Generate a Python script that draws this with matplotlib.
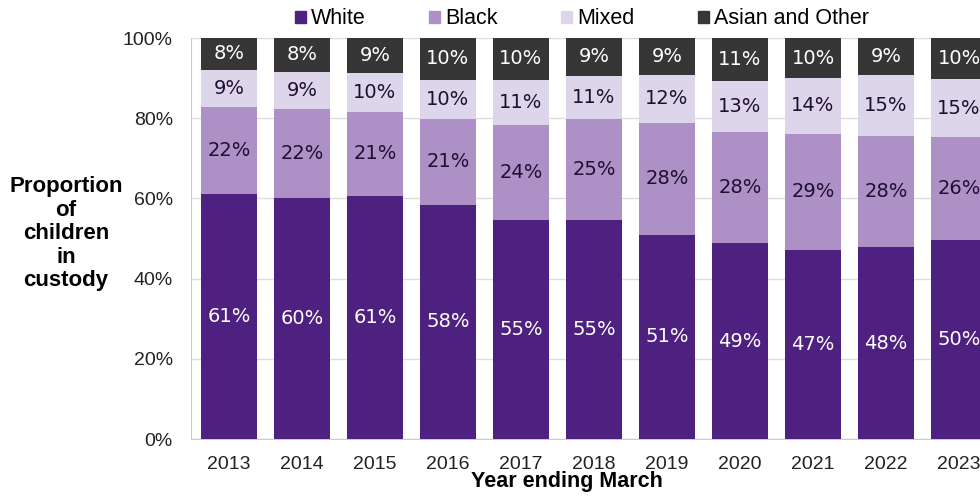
import matplotlib.pyplot as plt
from matplotlib.patches import Patch
import numpy as np

years = ['2013', '2014', '2015', '2016', '2017', '2018', '2019', '2020', '2021', '2022', '2023']
white = [61.0, 60.0, 60.6, 58.4, 54.7, 54.6, 51.0, 48.8, 47.2, 47.8, 49.6]
black = [21.8, 22.2, 21.0, 21.4, 23.7, 25.1, 27.9, 27.8, 28.9, 27.8, 25.6]
mixed = [9.3, 9.4, 9.6, 9.8, 11.2, 10.9, 12.0, 12.8, 13.9, 15.2, 14.6]
asian = [7.9, 8.4, 8.8, 10.4, 10.4, 9.4, 9.1, 10.6, 10.0, 9.2, 10.2]

series = [('White', white, '#4e2180', 'white'),
          ('Black', black, '#ad90c6', '#1e1030'),
          ('Mixed', mixed, '#ddd5ea', '#1e1030'),
          ('Asian and Other', asian, '#363636', 'white')]

fig = plt.figure(figsize=(9.8, 4.97), dpi=100)
ax = fig.add_axes([191 / 980, 0.1167, 806 / 980, 0.8068])

x = np.arange(len(years))
bottom = np.zeros(len(years))
for name, vals, col, tcol in series:
    vals = np.array(vals)
    ax.bar(x, vals, 0.77, bottom=bottom, color=col, zorder=3)
    for xi, b, v in zip(x, bottom, vals):
        ax.text(xi, b + v / 2, f'{v:.0f}%', ha='center', va='center',
                color=tcol, fontsize=14, family='DejaVu Sans', zorder=4)
    bottom += vals

ax.set_xlim(-0.52, 10.52)
ax.set_ylim(0, 100)
ax.set_yticks(range(0, 101, 20))
ax.set_yticklabels([f'{v}%' for v in range(0, 101, 20)])
ax.set_xticks(x)
ax.set_xticklabels(years)
ax.tick_params(axis='both', length=0, labelsize=14, colors='#222222')
ax.tick_params(axis='x', pad=12)
ax.tick_params(axis='y', pad=13)
for lab in ax.get_xticklabels() + ax.get_yticklabels():
    lab.set_family('Liberation Sans')
ax.grid(axis='y', color='#dddddd', lw=1, zorder=0)
for s in ['top', 'right']:
    ax.spines[s].set_visible(False)
ax.spines['left'].set_color('#cccccc')
ax.spines['bottom'].set_color('#cccccc')

ax.set_xlabel('Year ending March', fontsize=15.5, fontweight='bold', family='Liberation Sans',
              va='center')
ax.xaxis.set_label_coords(0.466, -0.107)
fig.text(0.0673, 0.530, 'Proportion\nof\nchildren\nin\ncustody', ha='center', va='center',
         fontsize=16, fontweight='bold', family='Liberation Sans', linespacing=1.16)

handles = [Patch(color=c) for _, _, c, _ in series]
fig.legend(handles, [s[0] for s in series], loc='center', bbox_to_anchor=(0.594, 0.962),
           ncol=4, frameon=False, handlelength=0.5, handleheight=0.5,
           handletextpad=0.25, columnspacing=2.95, borderaxespad=0,
           prop={'family': 'Liberation Sans', 'size': 15.5})

fig.savefig('out.png', dpi=100)
